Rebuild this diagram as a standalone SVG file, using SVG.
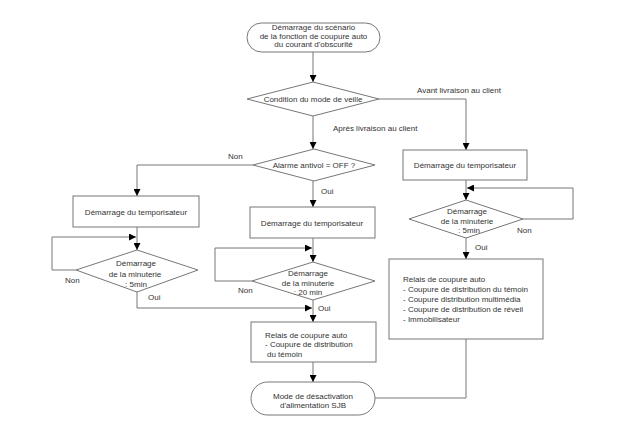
<svg xmlns="http://www.w3.org/2000/svg" width="623" height="435" viewBox="0 0 623 435">
<style>
.s{fill:#fff;stroke:#777;stroke-width:1}
.c{fill:none;stroke:#777;stroke-width:1}
text{font-family:"Liberation Sans",Arial,sans-serif;font-size:8px;fill:#333}
.m{text-anchor:middle}
</style>
<defs>
<marker id="ah" viewBox="0 0 8 8" refX="8" refY="4" markerWidth="7" markerHeight="7" orient="auto" markerUnits="userSpaceOnUse"><path d="M0,0 L8,4 L0,8 z" fill="#000"/></marker>
</defs>
<rect width="623" height="435" fill="#fff"/>
<g id="connectors">
<path class="c" d="M313,52 V82" marker-end="url(#ah)"/>
<path class="c" d="M379,99 H466 V150" marker-end="url(#ah)"/>
<path class="c" d="M313,116 V149" marker-end="url(#ah)"/>
<path class="c" d="M253,165 H137 V196" marker-end="url(#ah)"/>
<path class="c" d="M313,181 V207" marker-end="url(#ah)"/>
<path class="c" d="M313,238 V262" marker-end="url(#ah)"/>
<path class="c" d="M252,281 H215 V248 H312" marker-end="url(#ah)"/>
<path class="c" d="M313,300 V322" marker-end="url(#ah)"/>
<path class="c" d="M137,227 V250" marker-end="url(#ah)"/>
<path class="c" d="M76,270 H52 V237 H136" marker-end="url(#ah)"/>
<path class="c" d="M137,292 V308 H312" marker-end="url(#ah)"/>
<path class="c" d="M466,180 V200" marker-end="url(#ah)"/>
<path class="c" d="M523,219 H573 V188 H467" marker-end="url(#ah)"/>
<path class="c" d="M466,238 V259" marker-end="url(#ah)"/>
<path class="c" d="M466,339 V398 H375"/>
<path class="c" d="M313,362 V382" marker-end="url(#ah)"/>
</g>
<g id="labels">
<text x="417" y="93">Avant livraison au client</text>
<text x="333" y="131">Après livraison au client</text>
<text x="228" y="159">Non</text>
<text x="321" y="194">Oui</text>
<text x="65" y="283">Non</text>
<text x="148" y="300">Oui</text>
<text x="238" y="293">Non</text>
<text x="318" y="311">Oui</text>
<text x="517" y="233">Non</text>
<text x="475" y="250">Oui</text>
</g>
<g id="start">
<rect class="s" x="247" y="23" width="133" height="29" rx="14.5"/>
<text class="m" x="313.5" y="29.5">Démarrage du scénario</text>
<text class="m" x="313.5" y="38.5">de la fonction de coupure auto</text>
<text class="m" x="313.5" y="47">du courant d'obscurité</text>
</g>
<g id="veille">
<path class="s" d="M313,82 L379,99 L313,116 L247,99 Z"/>
<text class="m" x="313" y="101.5">Condition du mode de veille</text>
</g>
<g id="alarme">
<path class="s" d="M314,149 L375,165 L314,181 L253,165 Z"/>
<text class="m" x="314" y="167.5">Alarme antivol = OFF ?</text>
</g>
<g id="tempo-mid">
<rect class="s" x="250" y="207" width="125" height="31"/>
<text class="m" x="312" y="225.5">Démarrage du temporisateur</text>
</g>
<g id="minut-mid">
<path class="s" d="M313,262 L375,281 L313,300 L252,281 Z"/>
<text class="m" x="308" y="276">Démarrage</text>
<text class="m" x="308" y="286">de la minuterie</text>
<text class="m" x="308" y="295">: 20 min</text>
</g>
<g id="relais-mid">
<rect class="s" x="251" y="322" width="125" height="40"/>
<text x="265" y="337.5">Relais de coupure auto</text>
<text x="265" y="347">- Coupure de distribution</text>
<text x="267" y="356.5">du témoin</text>
</g>
<g id="end">
<rect class="s" x="251" y="382" width="124" height="33" rx="16.5"/>
<text class="m" x="313" y="398.5">Mode de désactivation</text>
<text class="m" x="313" y="408">d'alimentation SJB</text>
</g>
<g id="tempo-left">
<rect class="s" x="73" y="196" width="126" height="31"/>
<text class="m" x="136" y="214.5">Démarrage du temporisateur</text>
</g>
<g id="minut-left">
<path class="s" d="M137,250 L198,270 L137,292 L76,270 Z"/>
<text class="m" x="136" y="266">Démarrage</text>
<text class="m" x="135" y="276.5">de la minuterie</text>
<text class="m" x="136" y="286.5">: 5min</text>
</g>
<g id="tempo-right">
<rect class="s" x="403" y="150" width="124" height="30"/>
<text class="m" x="465" y="168">Démarrage du temporisateur</text>
</g>
<g id="minut-right">
<path class="s" d="M466,200 L523,219 L466,238 L409,219 Z"/>
<text class="m" x="467" y="213.5">Démarrage</text>
<text class="m" x="467" y="223.5">de la minuterie</text>
<text class="m" x="469" y="233">: 5min</text>
</g>
<g id="relais-right">
<rect class="s" x="389" y="259" width="154" height="80"/>
<text x="403" y="282">Relais de coupure auto</text>
<text x="403" y="292">- Coupure de distribution du témoin</text>
<text x="403" y="302">- Coupure distribution multimédia</text>
<text x="403" y="312">- Coupure de distribution de réveil</text>
<text x="403" y="322">- Immobilisateur</text>
</g>
</svg>
